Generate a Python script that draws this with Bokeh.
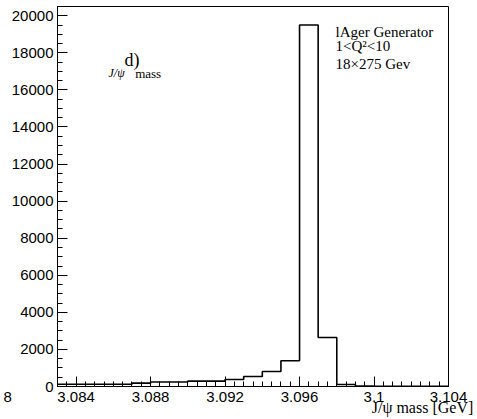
import numpy as np
from bokeh.plotting import figure
from bokeh.models import FixedTicker, CustomJSTickFormatter, Label, Range1d
from bokeh.embed import file_html
from bokeh.resources import INLINE

# Histogram: J/psi mass, 21 bins of 0.001 GeV from 3.083 to 3.104
x_low = 3.083
bin_width = 0.001
counts = [120, 120, 120, 120, 180, 240, 240, 290, 290, 380, 540, 810, 1390,
          19500, 2640, 110, 30, 8, 5, 5, 5]
x_ticks = [3.084, 3.088, 3.092, 3.096, 3.100, 3.104]
y_ticks = [0, 2000, 4000, 6000, 8000, 10000, 12000, 14000, 16000, 18000, 20000]
x_title = "J/ψ  mass [GeV]"

edges = x_low + bin_width * np.arange(len(counts) + 1)
ys = counts + [counts[-1]]

p = figure(width=477, height=419, output_backend="svg", toolbar_location=None,
           x_range=Range1d(3.083, 3.104), y_range=Range1d(0, 20500))
p.min_border_left = 57
p.min_border_right = 29
p.min_border_top = 6
p.min_border_bottom = 33
p.background_fill_color = "white"
p.border_fill_color = "white"
p.grid.visible = False
p.outline_line_color = "black"
p.outline_line_width = 1

p.step(x=list(edges), y=ys, mode="after", line_color="black", line_width=1.6)

# axes
xa = p.xaxis[0]
xa.ticker = FixedTicker(ticks=x_ticks,
                        minor_ticks=list(np.round(np.arange(3.0830, 3.1041, 0.0005), 4)))
xa.formatter = CustomJSTickFormatter(code="return parseFloat(tick.toFixed(3)).toString();")
ya = p.yaxis[0]
ya.ticker = FixedTicker(ticks=y_ticks, minor_ticks=list(range(0, 20501, 500)))
ya.formatter = CustomJSTickFormatter(code="return tick.toFixed(0);")
for ax in (xa, ya):
    ax.major_tick_in = 10
    ax.major_tick_out = 0
    ax.minor_tick_in = 5
    ax.minor_tick_out = 0
    ax.major_tick_line_color = "black"
    ax.minor_tick_line_color = "black"
    ax.axis_line_color = "black"
    ax.major_label_text_font = "Liberation Sans"
    ax.major_label_text_font_size = "15px"
    ax.major_label_text_color = "black"
xa.major_label_standoff = 5
ya.major_label_standoff = 4

# x title: trailing no-break spaces move the centred label left of the frame end
xa.axis_label = x_title + "\u00a0" * 12
xa.axis_label_text_font = "Liberation Serif"
xa.axis_label_text_font_style = "normal"
xa.axis_label_text_font_size = "16px"
xa.axis_label_text_color = "black"
xa.axis_label_standoff = -6
xa.axis_label_align = "end"

ya.axis_label = "\u00a0\n8"
ya.axis_label_orientation = "horizontal"
ya.axis_label_text_font = "Liberation Sans"
ya.axis_label_text_font_style = "normal"
ya.axis_label_text_font_size = "15px"
ya.axis_label_text_color = "black"
ya.axis_label_standoff = -3
ya.axis_label_align = "start"

serif = "Liberation Serif"

def lab(x, y, t, size, style="normal", align="left", font=serif):
    p.add_layout(Label(x=x, y=y, text=t, text_font=font, text_font_size=size,
                       text_font_style=style, text_align=align,
                       text_baseline="alphabetic", text_color="black"))

lab(3.09793, 19103, "lAger Generator", "15px")
lab(3.09793, 18395, "1<Q²<10", "15px")
lab(3.09793, 17408, "18×275 Gev", "15px")
lab(3.0866, 17640, "d)", "18px")
lab(3.08574, 16900, "J/ψ", "12px", style="italic")
lab(3.08717, 16900, "mass", "13px")

open("out.html", "w").write(file_html(p, INLINE))
